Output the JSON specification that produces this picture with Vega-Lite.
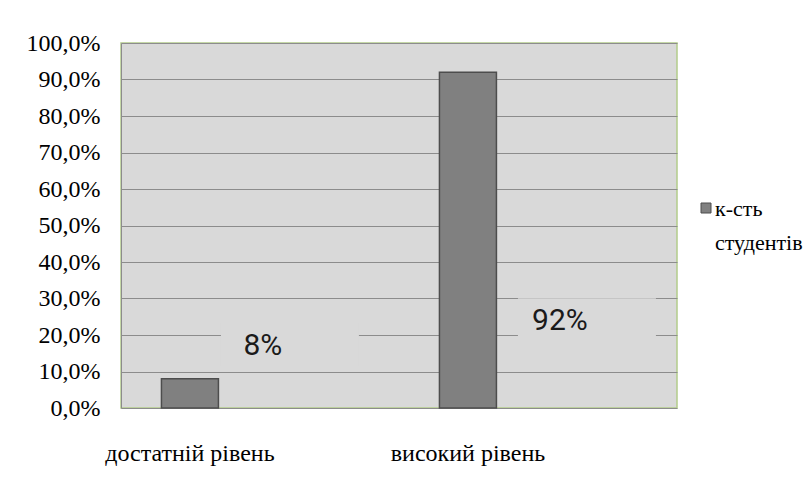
{
  "$schema": "https://vega.github.io/schema/vega-lite/v6.json",
  "width": 556,
  "height": 365,
  "autosize": {"type": "none"},
  "padding": {"left": 121, "top": 43, "right": 135, "bottom": 95},
  "background": "white",
  "config": {
    "view": {"fill": "#d9d9d9", "stroke": "#b3cb8b", "strokeWidth": 1.5},
    "style": {"guide-label": {"lineHeight": 34}}
  },
  "datasets": {
    "bars": [
      {"level": "достатній рівень", "share": 0.08, "series": "к-сть студентів"},
      {"level": "високий рівень", "share": 0.92, "series": "к-сть студентів"}
    ],
    "labels": [
      {"level": "достатній рівень", "label": "8%", "labelY": 0.17},
      {"level": "високий рівень", "label": "92%", "labelY": 0.238}
    ]
  },
  "layer": [
    {
      "data": {"name": "bars"},
      "mark": {"type": "bar", "stroke": "#4d4d4d", "strokeWidth": 1.5},
      "encoding": {
        "x": {
          "field": "level", "type": "nominal", "sort": null,
          "scale": {"paddingInner": 0.795, "paddingOuter": 0.3975, "align": 0.183},
          "axis": {"title": null, "domain": false, "ticks": false, "grid": false, "labelAngle": 0,
                   "labelFont": "Liberation Serif", "labelFontSize": 24, "labelColor": "black", "labelPadding": 33}
        },
        "y": {
          "field": "share", "type": "quantitative",
          "scale": {"domain": [0, 1]},
          "axis": {"title": null, "values": [0, 0.1, 0.2, 0.3, 0.4, 0.5, 0.6, 0.7, 0.8, 0.9, 1],
                   "labelExpr": "replace(format(datum.value, '.1%'), '.', ',')", "labelOverlap": false,
                   "ticks": false, "domainColor": "#8c8c8c", "gridColor": "#8c8c8c", "gridOpacity": 1,
                   "labelFont": "Liberation Serif", "labelFontSize": 24, "labelColor": "black", "labelPadding": 21}
        },
        "color": {
          "field": "series", "type": "nominal",
          "scale": {"range": ["#808080"]},
          "legend": {"title": null, "orient": "none", "legendX": 574, "legendY": 145,
                     "symbolType": "M-1,0.8 L1,0.8 L1,2.8 L-1,2.8 Z", "symbolSize": 100, "symbolStrokeColor": "#4d4d4d", "symbolStrokeWidth": 1,
                     "labelFont": "Liberation Serif", "labelFontSize": 22, "labelColor": "black",
                     "labelExpr": "['к-сть', 'студентів']", "labelBaseline": "top", "labelOffset": -2,
                     "padding": 0, "labelLimit": 0}
        }
      }
    },
    {
      "data": {"name": "labels"},
      "mark": {"type": "point", "filled": true, "fill": "#d9d9d9", "opacity": 1, "strokeWidth": 0,
               "shape": "M-0.84,-0.46 L1.92,-0.46 L1.92,0.4 L-0.84,0.4 Z", "size": 10000},
      "encoding": {
        "x": {"field": "level", "type": "nominal", "sort": null,
              "scale": {"type": "point", "padding": 0.436, "align": 0.548}, "axis": null},
        "y": {"field": "labelY", "type": "quantitative",
              "axis": {"title": null, "values": [0, 0.1, 0.2, 0.3, 0.4, 0.5, 0.6, 0.7, 0.8, 0.9, 1],
                   "labelExpr": "replace(format(datum.value, '.1%'), '.', ',')", "labelOverlap": false,
                   "ticks": false, "domainColor": "#8c8c8c", "gridColor": "#8c8c8c", "gridOpacity": 1,
                   "labelFont": "Liberation Serif", "labelFontSize": 24, "labelColor": "black", "labelPadding": 21}}
      }
    },
    {
      "data": {"name": "labels"},
      "mark": {"type": "text", "font": "Roboto", "fontSize": 30, "color": "#1a1a1a", "align": "center", "baseline": "middle"},
      "encoding": {
        "x": {"field": "level", "type": "nominal", "sort": null,
              "scale": {"type": "point", "padding": 0.436, "align": 0.548}, "axis": null},
        "y": {"field": "labelY", "type": "quantitative",
              "axis": {"title": null, "values": [0, 0.1, 0.2, 0.3, 0.4, 0.5, 0.6, 0.7, 0.8, 0.9, 1],
                   "labelExpr": "replace(format(datum.value, '.1%'), '.', ',')", "labelOverlap": false,
                   "ticks": false, "domainColor": "#8c8c8c", "gridColor": "#8c8c8c", "gridOpacity": 1,
                   "labelFont": "Liberation Serif", "labelFontSize": 24, "labelColor": "black", "labelPadding": 21}},
        "text": {"field": "label"}
      }
    }
  ],
  "resolve": {"scale": {"x": "independent"}}
}
